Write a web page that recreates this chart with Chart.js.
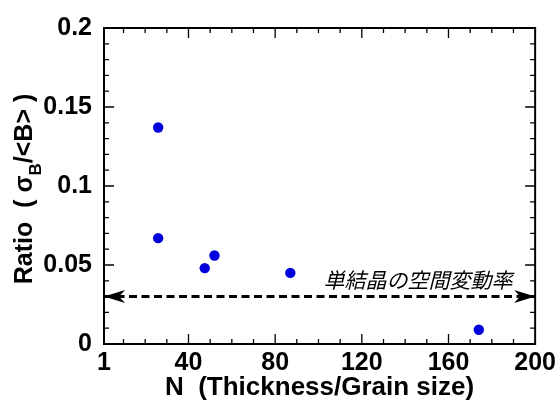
<!DOCTYPE html>
<html>
<head>
<meta charset="utf-8">
<script src="https://cdn.jsdelivr.net/npm/chart.js@4/dist/chart.umd.min.js"></script>
<style>
  html, body { margin: 0; padding: 0; background: #fff; }
</style>
</head>
<body>
<canvas id="chart-ratio" width="560" height="401"></canvas>
<script>
// values
const nValues = [26, 26, 47.5, 52, 87, 174];
const ratioValues = [0.137, 0.067, 0.048, 0.056, 0.045, 0.009];
const xTicks = [1, 40, 80, 120, 160, 200];
const yTicks = [0, 0.05, 0.1, 0.15, 0.2];
const singleCrystalN = [1, 200];
const singleCrystalRatio = [0.03, 0.03];
const singleCrystalLabel = '単結晶の空間変動率';

const labelFont = '"Liberation Sans", Arial, sans-serif';

// frame, inward ticks, titles, arrow heads and the note
const decorations = {
  id: 'decorations',
  afterDatasetsDraw(chart) {
    const ctx = chart.ctx;
    const a = chart.chartArea;
    const xs = chart.scales.x, ys = chart.scales.y;
    ctx.save();

    // arrow heads on the single crystal line
    ctx.fillStyle = '#000';
    const ay = ys.getPixelForValue(singleCrystalRatio[0]);
    [[xs.getPixelForValue(singleCrystalN[0]), 1], [xs.getPixelForValue(singleCrystalN[1]), -1]].forEach(([tx, dir]) => {
      ctx.beginPath();
      ctx.moveTo(tx, ay);
      ctx.lineTo(tx + dir * 21, ay - 6.5);
      ctx.lineTo(tx + dir * 15, ay);
      ctx.lineTo(tx + dir * 21, ay + 6.5);
      ctx.closePath();
      ctx.fill();
    });

    // note above the line
    ctx.font = 'italic 21px "Noto Sans CJK JP", sans-serif';
    ctx.textAlign = 'right';
    ctx.textBaseline = 'middle';
    ctx.fillText(singleCrystalLabel, xs.getPixelForValue(189.5), ys.getPixelForValue(0.0405));

    // frame
    ctx.strokeStyle = '#000';
    ctx.lineWidth = 2;
    ctx.strokeRect(a.left, a.top, a.right - a.left, a.bottom - a.top);

    // inward ticks
    ctx.lineWidth = 1.3;
    ctx.beginPath();
    for (let v = 10; v < 200; v += 10) {
      const px = xs.getPixelForValue(v);
      const len = v % 40 === 0 ? 10 : 5;
      ctx.moveTo(px, a.bottom); ctx.lineTo(px, a.bottom - len);
      ctx.moveTo(px, a.top); ctx.lineTo(px, a.top + len);
    }
    for (let i = 1; i < 20; i++) {
      const py = ys.getPixelForValue(i / 100);
      const len = i % 5 === 0 ? 10 : 5;
      ctx.moveTo(a.left, py); ctx.lineTo(a.left + len, py);
      ctx.moveTo(a.right, py); ctx.lineTo(a.right - len, py);
    }
    ctx.stroke();

    // x title
    ctx.font = 'bold 26px ' + labelFont;
    ctx.textAlign = 'center';
    ctx.textBaseline = 'alphabetic';
    ctx.fillText('N  (Thickness/Grain size)', (a.left + a.right) / 2, 395);

    // y title with subscript
    const big = 'bold 25px ' + labelFont;
    const small = 'bold 17px ' + labelFont;
    const parts = [['Ratio  ( σ', big, 0], ['B', small, 9], ['/<B> )', big, 0]];
    let total = 0;
    parts.forEach(p => { ctx.font = p[1]; total += ctx.measureText(p[0]).width; });
    ctx.translate(32, 189 + total / 2);
    ctx.rotate(-Math.PI / 2);
    ctx.textAlign = 'left';
    let u = 0;
    parts.forEach(p => {
      ctx.font = p[1];
      ctx.fillText(p[0], u, p[2]);
      u += ctx.measureText(p[0]).width;
    });

    ctx.restore();
  }
};

const ctx = document.getElementById('chart-ratio').getContext('2d');
const myChart = new Chart(ctx, {
  type: 'scatter',
  data: {
    datasets: [{
      data: nValues.map((n, i) => ({ x: n, y: ratioValues[i] })),
      backgroundColor: '#0000dd',
      borderWidth: 0,
      pointRadius: 5.2,
    }, {
      type: 'line',
      data: singleCrystalN.map((n, i) => ({ x: n, y: singleCrystalRatio[i] })),
      borderColor: '#000',
      borderWidth: 3,
      borderDash: [8, 4.5],
      pointRadius: 0,
      fill: false,
    }]
  },
  options: {
    responsive: false,
    animation: false,
    layout: { padding: { top: 28, right: 24, left: 0, bottom: 0 } },
    plugins: { legend: { display: false }, tooltip: { enabled: false } },
    scales: {
      x: {
        type: 'linear',
        min: 1,
        max: 200,
        afterBuildTicks: s => { s.ticks = xTicks.map(v => ({ value: v })); },
        afterFit: s => { s.height = 57; },
        grid: { display: false, drawTicks: false },
        border: { display: false },
        ticks: {
          padding: 4,
          color: '#000',
          maxRotation: 0,
          font: { family: labelFont, weight: 'bold', size: 25 },
        }
      },
      y: {
        min: 0,
        max: 0.2,
        afterBuildTicks: s => { s.ticks = yTicks.map(v => ({ value: v })); },
        afterFit: s => { s.width = 104; },
        grid: { display: false, drawTicks: false },
        border: { display: false },
        ticks: {
          padding: 12,
          color: '#000',
          callback: v => String(v),
          font: { family: labelFont, weight: 'bold', size: 25 },
        }
      }
    }
  },
  plugins: [decorations]
});
</script>
</body>
</html>
